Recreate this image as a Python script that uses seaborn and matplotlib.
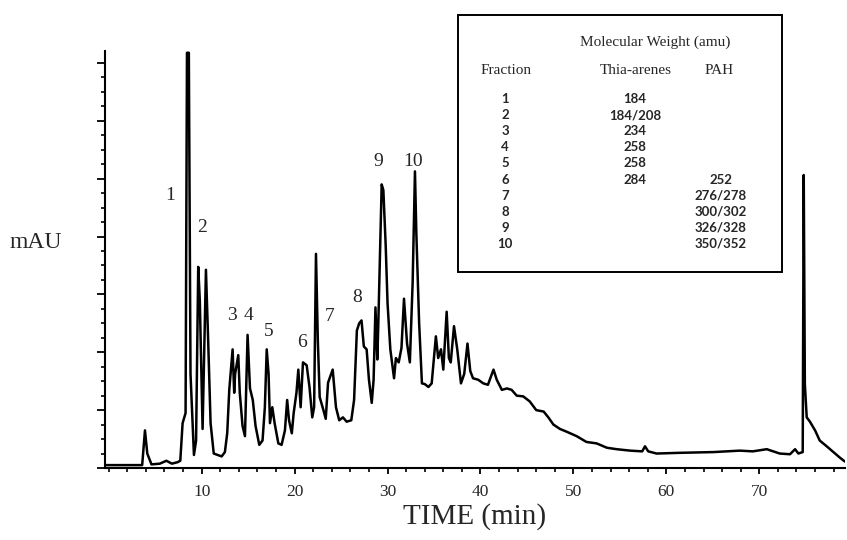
import matplotlib
matplotlib.use("Agg")
import matplotlib.pyplot as plt
from matplotlib.patches import Rectangle
from matplotlib.ticker import MultipleLocator, NullFormatter
import seaborn as sns
import pandas as pd

# chromatogram trace (time in min, signal in y-tick units)
time_min = [
    -0.4, 3.6, 3.9, 4.15, 4.6, 5.5, 6.2, 6.8, 7.4, 7.7, 7.95, 8.27, 8.42, 8.62,
    8.8, 9.17, 9.4, 9.63, 9.8, 10.1, 10.46, 10.7, 10.96, 11.3, 12.15, 12.5,
    12.75, 12.97, 13.33, 13.5, 13.6, 13.94, 14.1, 14.4, 14.66, 14.94, 15.2,
    15.5, 15.8, 16.2, 16.55, 16.8, 17.0, 17.2, 17.35, 17.6, 17.85, 18.25, 18.6,
    18.96, 19.2, 19.4, 19.7, 19.9, 20.2, 20.4, 20.65, 20.9, 21.3, 21.6, 21.9,
    22.1, 22.3, 22.5, 22.7, 23.1, 23.35, 23.6, 24.1, 24.45, 24.8, 25.2, 25.6,
    26.1, 26.4, 26.7, 26.95, 27.2, 27.45, 27.75, 28.0, 28.3, 28.5, 28.7, 28.9,
    29.0, 29.37, 29.55, 29.8, 30.0, 30.3, 30.7, 30.9, 31.2, 31.5, 31.77, 32.1,
    32.4, 32.7, 32.95, 33.1, 33.4, 33.7, 34.0, 34.4, 34.75, 35.2, 35.45, 35.75,
    36.0, 36.36, 36.6, 36.8, 37.15, 37.5, 37.9, 38.25, 38.6, 38.9, 39.2, 39.75,
    40.3, 40.8, 41.4, 41.75, 42.3, 42.85, 43.35, 43.9, 44.6, 45.3, 46.0, 46.8,
    47.3, 47.85, 48.55, 49.3, 50.35, 51.4, 52.5, 53.6, 54.65, 56.1, 57.4, 57.7,
    58.05, 58.95, 61.5, 65.05, 67.9, 69.3, 70.8, 72.2, 73.3, 73.85, 74.2, 74.67,
    74.78, 74.9, 75.1, 75.45, 76.0, 76.5, 77.25, 77.97, 78.7, 79.2,
]
signal = [
    0.2, 0.2, 2.6, 1.0, 0.25, 0.3, 0.5, 0.3, 0.4, 0.5, 3.1, 3.8, 28.7, 28.7,
    6.5, 0.9, 1.9, 13.9, 11.6, 2.7, 13.7, 8.8, 3.1, 1.0, 0.8, 1.1,
    2.4, 5.4, 8.2, 5.2, 6.5, 7.8, 5.2, 2.9, 2.2, 9.2, 5.5,
    4.7, 2.9, 1.6, 1.9, 4.2, 8.2, 6.5, 3.1, 4.2, 3.1, 1.7, 1.6,
    2.6, 4.7, 3.3, 2.4, 3.8, 5.2, 6.8, 4.2, 7.3, 7.1, 5.6, 3.5,
    4.2, 14.8, 8.8, 4.9, 4.0, 3.4, 5.9, 6.8, 4.2, 3.3, 3.5, 3.2,
    3.3, 4.7, 9.5, 10.0, 10.2, 8.4, 8.2, 6.1, 4.5, 6.1, 11.1, 7.5,
    9.8, 19.6, 19.2, 15.4, 11.4, 8.2, 6.2, 7.6, 7.3, 8.3, 11.7, 8.6,
    7.3, 12.8, 20.5, 16.2, 10.0, 5.85, 5.8, 5.6, 5.85, 9.1, 7.6, 8.2,
    6.8, 10.8, 7.6, 7.3, 9.8, 8.2, 5.85, 6.5, 8.6, 6.7, 6.2, 6.1,
    5.85, 5.75, 6.8, 6.1, 5.4, 5.5, 5.4, 5.0, 4.95, 4.6, 4.0, 3.9,
    3.5, 3.0, 2.7, 2.5, 2.2, 1.8, 1.7, 1.4, 1.3, 1.2, 1.15, 1.5,
    1.15, 1.0, 1.05, 1.1, 1.2, 1.15, 1.3, 1.0, 0.95, 1.3, 1.0, 1.1,
    20.25, 5.8, 3.5, 3.2, 2.6, 1.9, 1.5, 1.1, 0.7, 0.45,
]

# fraction labels over the peaks
peak_labels = ["1", "2", "3", "4", "5", "6", "7", "8", "9", "10"]
peak_label_t = [6.59, 9.99, 13.22, 15.01, 17.16, 20.76, 23.73, 26.78, 29.0, 32.77]
peak_label_y = [18.86, 16.6, 10.57, 10.57, 9.4, 8.64, 10.45, 11.75, 21.2, 21.2]

# inset table
fractions = ["1", "2", "3", "4", "5", "6", "7", "8", "9", "10"]
thia_arenes = ["184", "184/208", "234", "258", "258", "284", "", "", "", ""]
pah = ["", "", "", "", "", "252", "276/278", "300/302", "326/328", "350/352"]

df = pd.DataFrame({"time": time_min, "signal": signal})

sns.set_style("ticks")
plt.rcParams["font.family"] = ["Liberation Serif", "DejaVu Serif"]

W, H = 847, 540
fig = plt.figure(figsize=(W / 100, H / 100), dpi=100)
ax = fig.add_axes([105 / W, 72 / H, 740 / W, 416.7 / H])

sns.lineplot(data=df, x="time", y="signal", color="black", linewidth=1.8,
             estimator=None, ax=ax)

ax.set_xlim(-0.4, 79.22)
ax.set_ylim(0, 28.8)
sns.despine(ax=ax)
for s in ["left", "bottom"]:
    ax.spines[s].set_linewidth(1.5)
    ax.spines[s].set_color("black")

ax.xaxis.set_major_locator(MultipleLocator(10))
ax.xaxis.set_minor_locator(MultipleLocator(2))
ax.set_xticks([10, 20, 30, 40, 50, 60, 70])
ax.yaxis.set_major_locator(MultipleLocator(4))
ax.yaxis.set_minor_locator(MultipleLocator(1))
ax.yaxis.set_major_formatter(NullFormatter())
ax.tick_params(axis="x", which="major", direction="out", length=4.5, width=1.3,
               labelsize=12.5, pad=7, color="black")
ax.tick_params(axis="x", which="minor", direction="out", length=2.8, width=1.2, color="black")
ax.tick_params(axis="y", which="major", direction="out", length=6, width=1.3, color="black")
ax.tick_params(axis="y", which="minor", direction="out", length=3, width=1.2, color="black")

ax.set_xlabel("TIME (min)", fontsize=21, labelpad=2)
ax.set_ylabel("mAU", fontsize=17, rotation=0, ha="center", va="center")
ax.yaxis.set_label_coords(-0.093, 0.54)

for lab, t, y in zip(peak_labels, peak_label_t, peak_label_y):
    ax.text(t, y, lab, fontsize=14, ha="center", va="center")

# inset table drawn in figure pixel coordinates
def fx(px):
    return px / W

def fy(py):
    return 1 - py / H

fig.patches.append(Rectangle((fx(458), fy(272)), fx(782) - fx(458), fy(15) - fy(272),
                             transform=fig.transFigure, fill=False,
                             edgecolor="black", linewidth=1.4))
hdr = dict(fontsize=11, va="center")
fig.text(fx(580), fy(42), "Molecular Weight (amu)", ha="left", **hdr)
fig.text(fx(506), fy(70), "Fraction", ha="center", **hdr)
fig.text(fx(636), fy(70), "Thia-arenes", ha="center", **hdr)
fig.text(fx(719), fy(70), "PAH", ha="center", **hdr)

num = dict(fontsize=9.5, va="center", ha="center", fontweight="bold",
           family=["Lato", "DejaVu Sans"])
for i, (f, a, p) in enumerate(zip(fractions, thia_arenes, pah)):
    row_y = 99 + i * 16.1
    fig.text(fx(505), fy(row_y), f, **num)
    if a:
        fig.text(fx(635), fy(row_y), a, **num)
    if p:
        fig.text(fx(721), fy(row_y), p, **num)

fig.savefig("out.png", dpi=100)
